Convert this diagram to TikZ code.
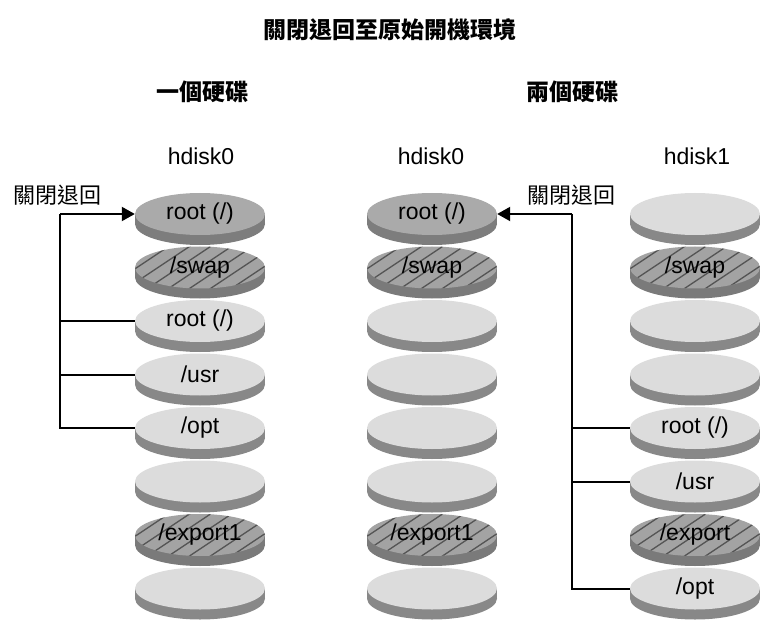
\documentclass[tikz,border=0pt]{standalone}
\usepackage{fontspec}
\setmainfont{Liberation Sans}
\newfontfamily\cjk{Noto Sans CJK TC}
\usetikzlibrary{shapes.geometric,arrows.meta}
\definecolor{lightface}{RGB}{220,220,220}
\definecolor{lightside}{RGB}{136,136,136}
\definecolor{darkface}{RGB}{170,170,170}
\definecolor{darkside}{RGB}{125,125,125}
\definecolor{hatchface}{RGB}{163,163,163}
\definecolor{hatchside}{RGB}{122,122,122}
\definecolor{hatchline}{RGB}{85,85,85}
\tikzset{
  diskface/.style={ellipse, minimum width=130pt, minimum height=42pt, inner sep=0pt,
    font=\fontsize{23}{27}\selectfont},
  lightfc/.style={diskface, fill=lightface},
  darkfc/.style={diskface, fill=darkface},
  hatchfc/.style={diskface, fill=hatchface,
    path picture={\foreach \i in {-5,...,5}
      \draw[hatchline, line width=1.3pt] ([xshift=\i*21pt]path picture bounding box.center) ++(-45pt,-30pt) -- ++(90pt,60pt);}},
  lightsd/.style={fill=lightside},
  darksd/.style={fill=darkside},
  hatchsd/.style={fill=hatchside},
  conn/.style={line width=2pt},
  arr/.style={line width=2pt, -{Triangle[length=13pt,width=14pt]}},
  cjklabel/.style={font=\cjk\fontsize{22}{26}\selectfont, inner sep=0pt},
  head/.style={font=\cjk\bfseries\fontsize{23}{27}\selectfont, inner sep=0pt},
  hd/.style={font=\fontsize{23}{27}\selectfont, inner sep=0pt}
}
\newcommand\mydisk[5]{%
  \fill[#4sd] (#2-65,#3) rectangle (#2+65,#3+10);
  \fill[#4sd] (#2,#3+10) ellipse [x radius=65pt, y radius=21pt];
  \node[#4fc] (#1) at (#2,#3) {#5};
}
\begin{document}
\begin{tikzpicture}[x=1pt,y=-1pt]
\useasboundingbox (0,0) rectangle (760,620);

\node[head] (title) at (390,30) {關閉退回至原始開機環境};
\node[head] (one) at (202,92) {一個硬碟};
\node[head] (two) at (572,92) {兩個硬碟};
\node[hd] (h1) at (201,156) {hdisk0};
\node[hd] (h2) at (431,156) {hdisk0};
\node[hd] (h3) at (697,156) {hdisk1};

% column 1
\mydisk{a1}{200}{214}{dark}{root (/)}
\mydisk{b1}{200}{267.5}{hatch}{/swap}
\mydisk{c1}{200}{321}{light}{root (/)}
\mydisk{d1}{200}{374.5}{light}{/usr}
\mydisk{e1}{200}{428}{light}{/opt}
\mydisk{f1}{200}{481.5}{light}{}
\mydisk{g1}{200}{535}{hatch}{/export1}
\mydisk{h1d}{200}{588.5}{light}{}

% column 2
\mydisk{a2}{432}{214}{dark}{root (/)}
\mydisk{b2}{432}{267.5}{hatch}{/swap}
\mydisk{c2}{432}{321}{light}{}
\mydisk{d2}{432}{374.5}{light}{}
\mydisk{e2}{432}{428}{light}{}
\mydisk{f2}{432}{481.5}{light}{}
\mydisk{g2}{432}{535}{hatch}{/export1}
\mydisk{h2d}{432}{588.5}{light}{}

% column 3
\mydisk{a3}{695}{214}{light}{}
\mydisk{b3}{695}{267.5}{hatch}{/swap}
\mydisk{c3}{695}{321}{light}{}
\mydisk{d3}{695}{374.5}{light}{}
\mydisk{e3}{695}{428}{light}{root (/)}
\mydisk{f3}{695}{481.5}{light}{/usr}
\mydisk{g3}{695}{535}{hatch}{/export}
\mydisk{h3d}{695}{588.5}{light}{/opt}

% fallback labels
\node[cjklabel] (fb1) at (57.5,195) {關閉退回};
\node[cjklabel] (fb2) at (571,195) {關閉退回};

% connectors column 1
\coordinate (L1) at (60,214);
\draw[arr] (L1) -- (a1.west);
\draw[conn] (L1) -- (L1 |- e1.west) -- (e1.west);
\draw[conn] (L1 |- c1.west) -- (c1.west);
\draw[conn] (L1 |- d1.west) -- (d1.west);

% connectors column 3
\coordinate (L3) at (572,214);
\draw[arr] (L3) -- (a2.east);
\draw[conn] (L3) -- (L3 |- h3d.west) -- (h3d.west);
\draw[conn] (L3 |- e3.west) -- (e3.west);
\draw[conn] (L3 |- f3.west) -- (f3.west);
\end{tikzpicture}
\end{document}
